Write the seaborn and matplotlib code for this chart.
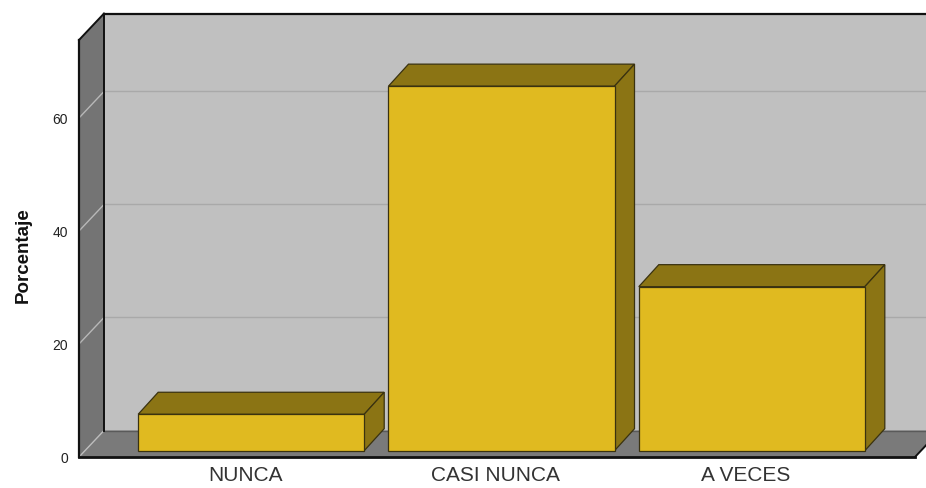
import matplotlib
matplotlib.use("Agg")
import matplotlib.pyplot as plt
import seaborn as sns
import numpy as np
import pandas as pd
from matplotlib.patches import Polygon
from matplotlib.transforms import IdentityTransform, offset_copy
from matplotlib.lines import Line2D

# ---- data ----
categories = ["NUNCA", "CASI NUNCA", "A VECES"]
values = [6.45, 64.52, 29.03]
yticks = [0, 20, 40, 60]
ylabel = "Porcentaje"

# ---- style ----
sns.set_style("white")
plt.rcParams["font.family"] = ["Liberation Sans", "DejaVu Sans"]

FRONT = "#E0BA20"
DARK = "#8B7414"
EDGE = "#3a3210"
BACK = "#C0C0C0"
SIDE = "#747474"
FLOOR = "#7A7A7A"

W, H = 926, 489
fig = plt.figure(figsize=(W / 100, H / 100), dpi=100)
fig.patch.set_facecolor("white")
ax = fig.add_axes([79 / W, 31 / H, 836 / W, 417 / H])
ax.set_facecolor("none")

df = pd.DataFrame({"cat": categories, "val": values})
sns.barplot(data=df, x="cat", y="val", color=FRONT, saturation=1, width=0.903,
            edgecolor=EDGE, linewidth=0.9, ax=ax, zorder=5)

ymax = 73.8
ax.set_xlim(-0.664, 2.676)
ax.set_ylim(0, ymax)
for s in ax.spines.values():
    s.set_visible(False)

ax.set_yticks(yticks)
ax.set_yticklabels([str(t) for t in yticks])
ax.set_xticks(range(len(categories)))
ax.set_xticklabels(categories)
ax.tick_params(axis="y", length=0, pad=8, labelsize=10, labelcolor="#222222")
ax.tick_params(axis="x", length=0, pad=6, labelsize=15, labelcolor="#333333")
ax.set_xlabel("")
ax.set_ylabel(ylabel, fontsize=13.5, fontweight="bold", color="#111111")
ax.yaxis.set_label_coords(-0.056, 0.487)

fig.canvas.draw()
T = ax.transData.transform
D = np.array([25.0, 26.5])          # wall depth in pixels
BO = np.array([6.0, 6.3])           # bar front offset
BD = np.array([20.0, 22.0])         # bar depth

xl, xr = ax.get_xlim()
A0, A1 = T((xl, 0)), T((xl, ymax))
B0, B1 = T((xr, 0)), T((xr, ymax))

def poly(pts, fc, ec="none", lw=0, z=1):
    p = Polygon(np.array(pts), closed=True, facecolor=fc, edgecolor=ec, linewidth=lw,
                transform=IdentityTransform(), clip_on=False, zorder=z)
    ax.add_artist(p)
    return p

def line(p, q, c, lw, z=2):
    l = Line2D([p[0], q[0]], [p[1], q[1]], color=c, linewidth=lw,
               transform=IdentityTransform(), clip_on=False, zorder=z,
               solid_capstyle="projecting")
    ax.add_artist(l)

# walls
poly([A0 + D, B0 + D + [40, 0], B1 + D + [40, 0], A1 + D], BACK, z=0.5)
poly([A0, A1, A1 + D, A0 + D], SIDE, z=0.6)
poly([A0, B0, B0 + D, A0 + D], FLOOR, z=0.6)

# grid lines
for t in yticks[1:]:
    p, q = T((xl, t)), T((xr, t))
    line(p + D, q + D + [40, 0], "#A9A9A9", 1.0, z=0.7)
    line(p, p + D, "#B8B8B8", 1.0, z=0.7)

# edges
line(A0 + D, B0 + D + [40, 0], "#5a5a5a", 1.0, z=0.8)
line(A0, A0 + D, "#BDBDBD", 1.0, z=0.8)
line(A0 + D, A1 + D, "#111111", 1.4, z=0.9)
line(A1 + D, B1 + D + [40, 0], "#111111", 1.6, z=0.9)
line(A1, A1 + D, "#111111", 1.4, z=0.9)
line(A0, A1, "#111111", 1.6, z=0.9)
line(A0, B0, "#111111", 2.0, z=0.9)
line(B0, B0 + D, "#111111", 1.4, z=0.9)

# bars: shift front faces and add top / side faces
off = offset_copy(ax.transData, fig=fig, x=BO[0], y=BO[1], units="dots")
bars = [p for p in ax.patches if hasattr(p, "get_width")]
for p in bars:
    p.set_transform(off)
    p.set_clip_on(False)
    x0, w, h = p.get_x(), p.get_width(), p.get_height()
    fl = T((x0, h)) + BO
    fr = T((x0 + w, h)) + BO
    brb = T((x0 + w, 0)) + BO
    poly([fl, fr, fr + BD, fl + BD], DARK, EDGE, 0.9, z=4)
    poly([fr, brb, brb + BD, fr + BD], DARK, EDGE, 0.9, z=4)

fig.savefig("out.png", dpi=100, facecolor="white")
